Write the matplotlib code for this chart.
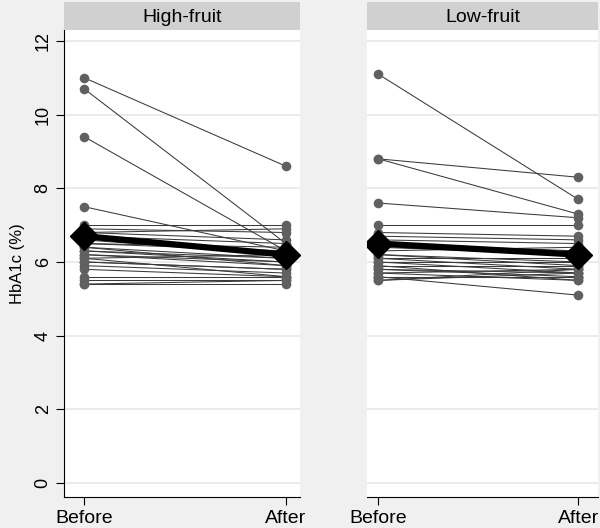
import numpy as np
import matplotlib.pyplot as plt

plt.rcParams['font.family'] = ['Liberation Sans', 'DejaVu Sans']

groups = ["High-fruit", "Low-fruit"]
time_labels = ["Before", "After"]

high_before = [11.0, 10.7, 9.4, 7.5, 7.0, 6.9, 6.8, 6.8, 6.7, 6.6, 6.5, 6.5, 6.4, 6.4,
               6.3, 6.3, 6.2, 6.2, 6.1, 6.1, 6.0, 6.0, 5.9, 5.8, 5.6, 5.5, 5.4, 5.4]
high_after = [8.6, 6.5, 6.3, 6.3, 7.0, 6.8, 6.9, 6.6, 6.5, 6.2, 6.3, 6.4, 5.9, 6.1,
              6.1, 6.0, 6.0, 5.9, 5.6, 6.2, 5.8, 5.8, 5.7, 5.6, 5.6, 5.5, 5.4, 5.5]
low_before = [11.1, 8.8, 8.8, 7.6, 7.0, 6.8, 6.7, 6.6, 6.5, 6.4, 6.3, 6.2, 6.2, 6.1,
              6.1, 6.0, 6.0, 5.9, 5.9, 5.8, 5.8, 5.7, 5.7, 5.6, 5.6, 5.5, 5.5, 5.6]
low_after = [7.7, 8.3, 7.3, 7.2, 7.0, 6.7, 6.6, 6.5, 6.3, 6.2, 6.4, 6.0, 5.9, 6.1,
             5.8, 6.0, 5.7, 5.5, 5.9, 5.6, 5.7, 5.8, 5.5, 5.1, 5.6, 5.8, 5.7, 5.6]

mean_before = [6.7, 6.5]
mean_after = [6.2, 6.2]

y_ticks = [0, 2, 4, 6, 8, 10, 12]

bg = "#f0f0f0"
fig = plt.figure(figsize=(6, 5.28), dpi=100, facecolor=bg)

panels = [
    (high_before, high_after, [0.107, 0.0587, 0.393, 0.884], (-0.099, 1.07)),
    (low_before, low_after, [0.612, 0.0587, 0.385, 0.884], (-0.055, 1.10)),
]

for i, (before, after, pos, xlim) in enumerate(panels):
    ax = fig.add_axes(pos)
    ax.set_facecolor("white")
    x = [0, 1]
    for b, a in zip(before, after):
        ax.plot(x, [b, a], color="#3a3a3a", lw=0.75, zorder=2)
    ax.scatter([0] * len(before), before, s=48, color="#606060", zorder=3, lw=0)
    ax.scatter([1] * len(after), after, s=48, color="#606060", zorder=3, lw=0)
    ax.plot(x, [mean_before[i], mean_after[i]], color="black", lw=4.5,
            marker="D", markersize=14, zorder=4)

    ax.set_xlim(*xlim)
    ax.set_ylim(-0.38, 12.29)
    ax.set_yticks(y_ticks)
    ax.set_xticks(x)
    ax.set_xticklabels(time_labels, fontsize=14)
    ax.grid(axis="y", color="#e8e8e8", lw=1.2, zorder=0)
    ax.set_axisbelow(True)
    for s in ["top", "right"]:
        ax.spines[s].set_visible(False)
    ax.spines["bottom"].set_color("black")
    ax.tick_params(axis="x", length=6, direction="out", pad=3)
    if i == 0:
        ax.tick_params(axis="y", length=6, labelsize=13, labelrotation=90, pad=3)
        for lab in ax.get_yticklabels():
            lab.set_verticalalignment("center")
        ax.set_ylabel("HbA1c (%)", fontsize=12, labelpad=7)
    else:
        ax.spines["left"].set_visible(False)
        ax.tick_params(axis="y", left=False, labelleft=False)

    sax = fig.add_axes([pos[0], 0.943, pos[2], 0.053])
    sax.set_facecolor("#d0d0d0")
    sax.set_xticks([])
    sax.set_yticks([])
    for s in sax.spines.values():
        s.set_visible(False)
    sax.text(0.5, 0.45, groups[i], ha="center", va="center", fontsize=14,
             transform=sax.transAxes)

fig.savefig("out.png", dpi=100, facecolor=bg)
